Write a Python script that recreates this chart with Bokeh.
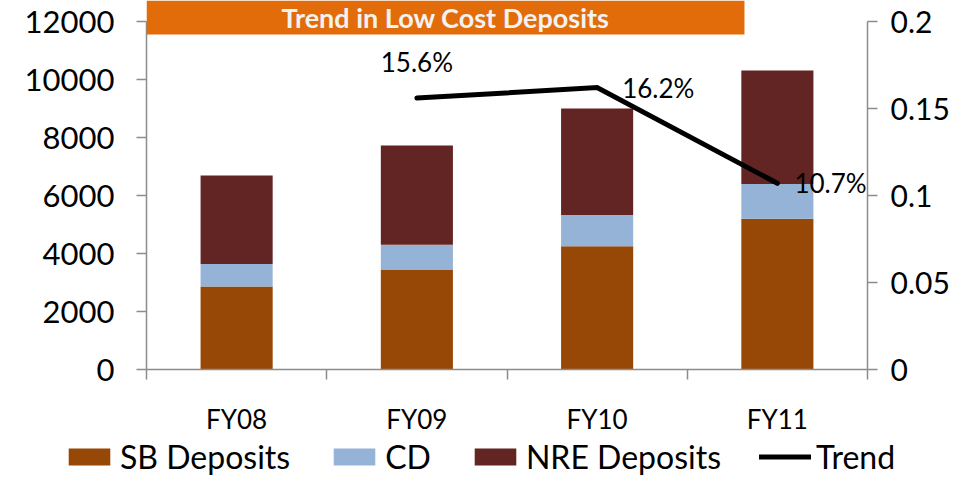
from bokeh.plotting import figure
from bokeh.models import (ColumnDataSource, Range1d, LinearAxis, FixedTicker,
                          Label, LabelSet, Legend, LegendItem)
from bokeh.core.properties import value
from bokeh.embed import file_html
from bokeh.resources import INLINE

# ---------------- data ----------------
categories = ["FY08", "FY09", "FY10", "FY11"]
sb_deposits = [2860, 3450, 4250, 5200]
cd = [780, 850, 1080, 1200]
nre_deposits = [3050, 3420, 3670, 3910]
series_names = ["SB Deposits", "CD", "NRE Deposits"]

trend_categories = ["FY09", "FY10", "FY11"]
trend = [0.156, 0.162, 0.107]
trend_name = "Trend"

left_ticks = [0, 2000, 4000, 6000, 8000, 10000, 12000]
right_ticks = [0, 0.05, 0.1, 0.15, 0.2]
right_tick_labels = ["0", "0.05", "0.1", "0.15", "0.2"]
title_text = "Trend in Low Cost Deposits"

# ---------------- styling / layout ----------------
colors = ["#974806", "#95B3D7", "#632523"]
axis_gray = "#8C8C8C"
FONT = "Lato"
FRAME_H = 369          # frame runs from the top of the canvas to the x axis
AXIS_SPAN = 348        # pixels between the 0 tick and the top tick
headroom = FRAME_H / AXIS_SPAN
LEGEND_H = 38

xpos = [i + 0.5 for i in range(len(categories))]
bounds = [float(i) for i in range(len(categories) + 1)]
tx = [categories.index(c) + 0.5 for c in trend_categories]
trend_labels = [f"{v * 100:.1f}%" for v in trend]

source = ColumnDataSource(dict(x=xpos, sb=sb_deposits, cd=cd, nre=nre_deposits))
trend_source = ColumnDataSource(dict(x=tx, y=trend))


def draw_series(fig, y_range_name):
    bars = fig.vbar_stack(["sb", "cd", "nre"], x="x", width=0.4, source=source,
                          color=colors, line_color=None)
    ln = fig.line("x", "y", source=trend_source, y_range_name=y_range_name,
                  line_width=5, line_color="black", line_cap="round",
                  line_join="miter")
    return bars, ln


p = figure(frame_width=721, frame_height=FRAME_H,
           min_border_left=146, min_border_right=90,
           min_border_top=0, min_border_bottom=475 - FRAME_H - LEGEND_H,
           x_range=Range1d(0, len(categories)),
           y_range=Range1d(0, left_ticks[-1] * headroom),
           output_backend="svg", toolbar_location=None)
p.extra_y_ranges = {"pct": Range1d(0, right_ticks[-1] * headroom)}
p.outline_line_color = None
p.xgrid.visible = False
p.ygrid.visible = False
p.background_fill_color = "white"
p.border_fill_color = "white"

draw_series(p, "pct")

# data labels
label_style = dict(y_range_name="pct", text_font=value(FONT),
                   text_font_size="26px", text_color="black",
                   text_baseline="alphabetic")
src_a = ColumnDataSource(dict(x=tx[0:1], y=trend[0:1], t=trend_labels[0:1]))
src_b = ColumnDataSource(dict(x=tx[1:2], y=trend[1:2], t=trend_labels[1:2]))
src_c = ColumnDataSource(dict(x=tx[2:3], y=trend[2:3], t=trend_labels[2:3]))
p.add_layout(LabelSet(x="x", y="y", text="t", source=src_a, text_align="center",
                      y_offset=26, **label_style))
p.add_layout(LabelSet(x="x", y="y", text="t", source=src_b, text_align="left",
                      x_offset=25, y_offset=-10, **label_style))
p.add_layout(LabelSet(x="x", y="y", text="t", source=src_c, text_align="left",
                      x_offset=17, y_offset=-10, **label_style))

# x axis
xa = p.xaxis[0]
xa.ticker = FixedTicker(ticks=xpos, minor_ticks=bounds)
xa.major_label_overrides = {x: c for x, c in zip(xpos, categories)}
xa.major_tick_out = 0
xa.major_tick_in = 0
xa.minor_tick_out = 10
xa.minor_tick_in = 0
xa.minor_tick_line_color = axis_gray
xa.minor_tick_line_width = 1.5
xa.axis_line_color = axis_gray
xa.axis_line_width = 1.5
xa.major_label_text_font = FONT
xa.major_label_text_font_size = "26px"
xa.major_label_text_color = "black"
xa.major_label_standoff = 23

# left axis
ya = p.yaxis[0]
ya.ticker = FixedTicker(ticks=left_ticks)
ya.major_label_overrides = {t: str(t) for t in left_ticks}
ya.bounds = (left_ticks[0], left_ticks[-1])
ya.major_label_standoff = 22
ya.major_label_text_font_size = "31px"

# right axis
ra = LinearAxis(y_range_name="pct", ticker=FixedTicker(ticks=right_ticks))
ra.major_label_overrides = {t: l for t, l in zip(right_ticks, right_tick_labels)}
ra.bounds = (right_ticks[0], right_ticks[-1])
ra.major_label_standoff = 13
ra.major_label_text_font_size = "30px"
p.add_layout(ra, "right")

for ax in (ya, ra):
    ax.axis_line_color = axis_gray
    ax.axis_line_width = 1.5
    ax.major_tick_line_color = axis_gray
    ax.major_tick_line_width = 1.5
    ax.major_tick_out = 10
    ax.major_tick_in = 0
    ax.minor_tick_line_color = None
    ax.major_label_text_font = FONT
    ax.major_label_text_color = "black"

# title banner
p.add_layout(Label(x=0, y=FRAME_H, x_units="screen", y_units="screen",
                   text=title_text, text_align="left", text_baseline="top",
                   text_font=FONT, text_font_style="bold", text_font_size="27px",
                   text_color="#F2F2F2", background_fill_color="#E36C0A",
                   padding=dict(left=135, right=135, top=0, bottom=1)))

# ---------------- legend strip (separate root; its series sit far below view) ----------------
lf = figure(width=957, height=LEGEND_H, min_border_left=63, min_border_right=0,
            min_border_top=0, min_border_bottom=0,
            x_range=Range1d(0, len(categories)),
            y_range=Range1d(left_ticks[-1] * 20, left_ticks[-1] * 21),
            x_axis_type=None, y_axis_type=None,
            output_backend="svg", toolbar_location=None)
lf.extra_y_ranges = {"pct": Range1d(right_ticks[-1] * 20, right_ticks[-1] * 21)}
lf.outline_line_color = None
lf.xgrid.visible = False
lf.ygrid.visible = False
lf.background_fill_color = "white"
lf.border_fill_color = "white"

bars, ln = draw_series(lf, "pct")
items = [LegendItem(label=n, renderers=[r]) for n, r in zip(series_names, bars)]
items.append(LegendItem(label=trend_name, renderers=[ln]))

lg = Legend(items=items, location="top_left", orientation="horizontal",
            glyph_width=52, glyph_height=21, label_standoff=5, spacing=38,
            padding=0, margin=0, border_line_color=None,
            background_fill_alpha=0, label_text_font=FONT,
            label_text_font_size="32px", label_text_color="black")
lf.add_layout(lg)

open("out.html", "w").write(file_html([p, lf], INLINE))
